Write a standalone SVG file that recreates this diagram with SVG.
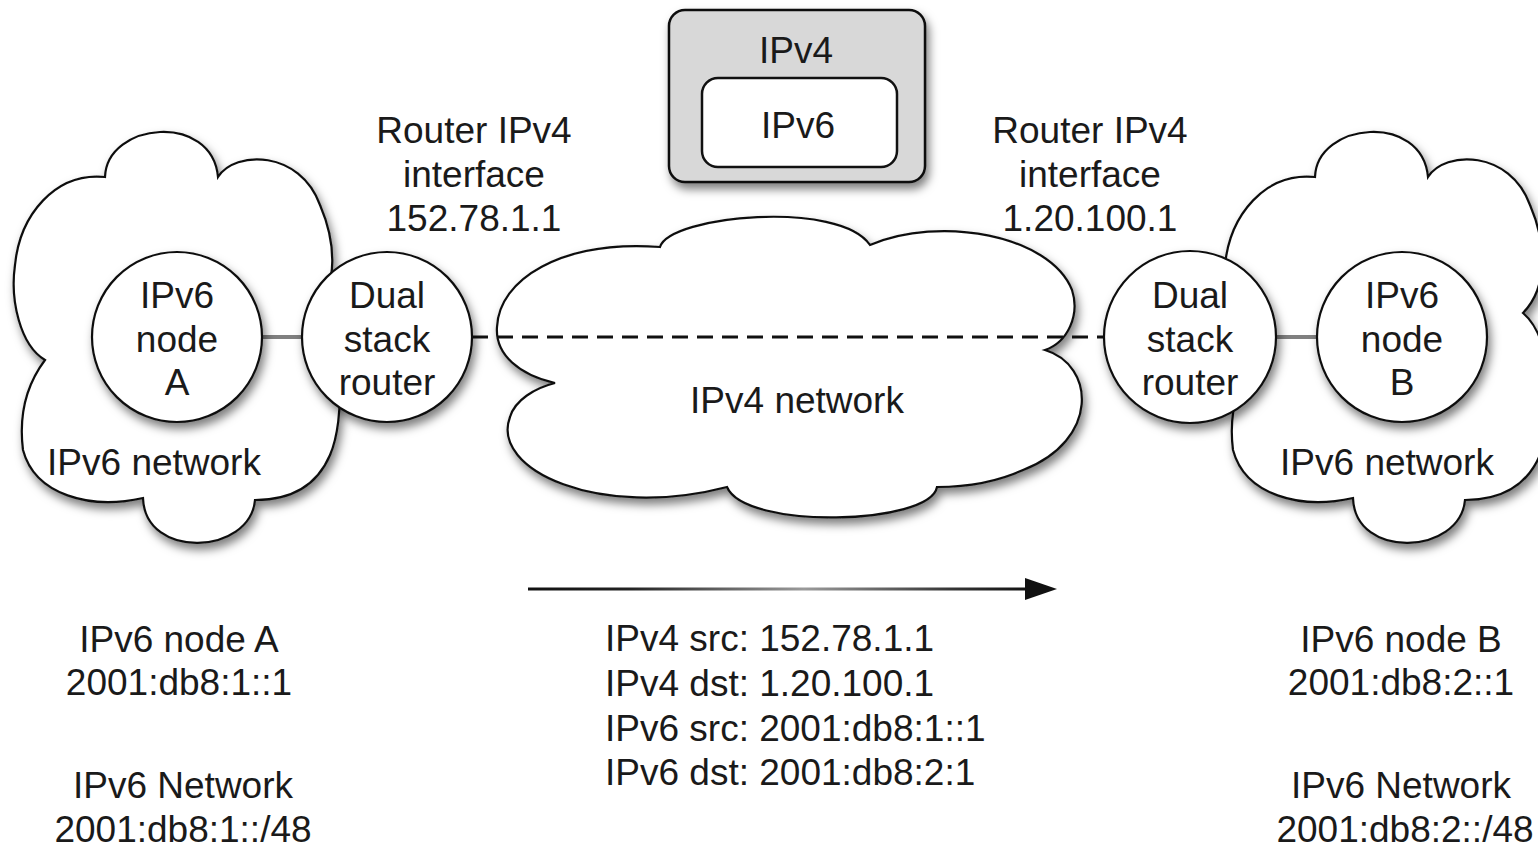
<svg xmlns="http://www.w3.org/2000/svg" width="1538" height="847" viewBox="0 0 1538 847">
<style>
text{font-family:"Liberation Sans",Arial,Helvetica,sans-serif;font-size:37px;fill:#1a1a1a;text-anchor:middle}
.left{text-anchor:start}
.cloud{fill:#fff;stroke:#111;stroke-width:2.2}
.circ{fill:#fff;stroke:#111;stroke-width:2.2}
.link{stroke:#808080;stroke-width:4;fill:none}
.dash{stroke:#111;stroke-width:3;stroke-dasharray:16 9;fill:none}
</style>
<defs>
<filter id="sh" x="-20%" y="-20%" width="140%" height="150%">
<feDropShadow dx="3" dy="6" stdDeviation="5" flood-color="#000" flood-opacity="0.5"/>
</filter>
<linearGradient id="ag" gradientUnits="userSpaceOnUse" x1="528" y1="0" x2="1030" y2="0">
<stop offset="0" stop-color="#111"/>
<stop offset="0.2" stop-color="#222"/>
<stop offset="0.55" stop-color="#9a9a9a"/>
<stop offset="0.85" stop-color="#333"/>
<stop offset="1" stop-color="#111"/>
</linearGradient>
<path id="v6cloud" d="M45,360 C20,345 10,300 15,265 C20,215 55,172 105,177 C107,122 212,112 218,177 C235,150 300,150 320,205 C335,240 340,285 313,313 C345,340 345,420 330,455 C315,490 285,500 255,500 C250,555 145,560 143,498 C90,510 35,495 23,450 C18,410 30,380 45,360 Z"/>
</defs>

<g id="cloud-ipv6-left" filter="url(#sh)">
<use href="#v6cloud" class="cloud"/>
</g>
<g id="cloud-ipv6-right" filter="url(#sh)">
<use href="#v6cloud" class="cloud" transform="translate(1210,0)"/>
</g>
<g id="cloud-ipv4" filter="url(#sh)">
<path class="cloud" d="M555,383 C520,375 495,355 497,327 C499,280 560,240 660,247 C670,215 840,200 870,245 C940,215 1050,235 1072,290 C1080,315 1068,342 1045,350 C1095,365 1100,440 1023,470 C990,485 960,487 937,487 C930,525 745,530 727,487 C600,520 490,470 510,417 C515,400 535,388 555,383 Z"/>
</g>

<g id="connectors">
<line class="dash" x1="472" y1="337" x2="1104" y2="337"/>
<line class="link" x1="262" y1="337" x2="302" y2="337"/>
<line class="link" x1="1276" y1="337" x2="1317" y2="337"/>
<line x1="528" y1="589" x2="1030" y2="589" stroke="url(#ag)" stroke-width="3"/>
<polygon points="1025,578 1057,589 1025,600" fill="#111"/>
</g>

<g id="node-a">
<circle class="circ" cx="177" cy="337" r="85" filter="url(#sh)"/>
<text x="177" y="308">IPv6</text>
<text x="177" y="352">node</text>
<text x="177" y="395">A</text>
</g>
<g id="router-left">
<circle class="circ" cx="387" cy="337" r="85" filter="url(#sh)"/>
<text x="387" y="308">Dual</text>
<text x="387" y="352">stack</text>
<text x="387" y="395">router</text>
</g>
<g id="router-right">
<circle class="circ" cx="1190" cy="337" r="86" filter="url(#sh)"/>
<text x="1190" y="308">Dual</text>
<text x="1190" y="352">stack</text>
<text x="1190" y="395">router</text>
</g>
<g id="node-b">
<circle class="circ" cx="1402" cy="337" r="85" filter="url(#sh)"/>
<text x="1402" y="308">IPv6</text>
<text x="1402" y="352">node</text>
<text x="1402" y="395">B</text>
</g>

<g id="cloud-labels">
<text x="154" y="475">IPv6 network</text>
<text x="1387" y="475">IPv6 network</text>
<text x="797" y="413">IPv4 network</text>
</g>

<g id="packet">
<rect x="669" y="10" width="256" height="172" rx="16" fill="#d8d8d8" stroke="#111" stroke-width="2.5" filter="url(#sh)"/>
<text x="796" y="63">IPv4</text>
<rect x="702" y="78" width="195" height="89" rx="16" fill="#fff" stroke="#111" stroke-width="2.5"/>
<text x="798" y="138">IPv6</text>
</g>

<g id="router-left-label">
<text x="474" y="143">Router IPv4</text>
<text x="474" y="187">interface</text>
<text x="474" y="231">152.78.1.1</text>
</g>
<g id="router-right-label">
<text x="1090" y="143">Router IPv4</text>
<text x="1090" y="187">interface</text>
<text x="1090" y="231">1.20.100.1</text>
</g>

<g id="info-a">
<text x="179" y="652">IPv6 node A</text>
<text x="179" y="695">2001:db8:1::1</text>
<text x="183" y="798">IPv6 Network</text>
<text x="183" y="842">2001:db8:1::/48</text>
</g>
<g id="info-b">
<text x="1401" y="652">IPv6 node B</text>
<text x="1401" y="695">2001:db8:2::1</text>
<text x="1401" y="798">IPv6 Network</text>
<text x="1405" y="842">2001:db8:2::/48</text>
</g>
<g id="info-packet">
<text class="left" x="605" y="651">IPv4 src: 152.78.1.1</text>
<text class="left" x="605" y="696">IPv4 dst: 1.20.100.1</text>
<text class="left" x="605" y="741">IPv6 src: 2001:db8:1::1</text>
<text class="left" x="605" y="785">IPv6 dst: 2001:db8:2:1</text>
</g>
</svg>
